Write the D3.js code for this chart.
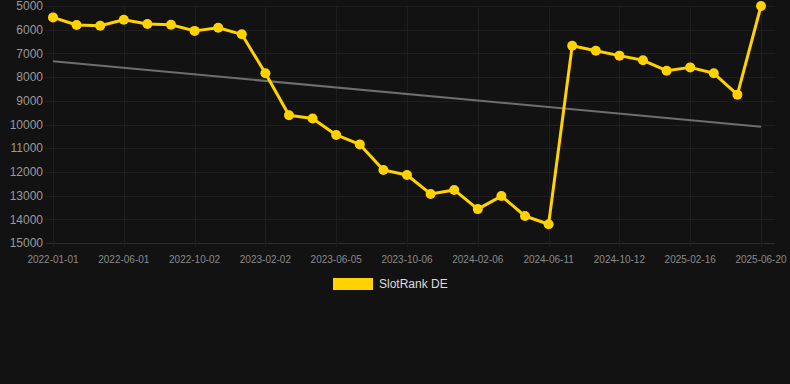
<!DOCTYPE html>
<html>
<head>
<meta charset="utf-8">
<script src="https://cdn.jsdelivr.net/npm/d3@7"></script>
<style>
  html, body { margin: 0; padding: 0; background: #121212; }
  svg { display: block; }
</style>
</head>
<body>
<div id="chart"></div>
<script>
// dates of each sample (only every third one is labelled on the axis)
const dates = [
  '2022-01-01', '2022-02-20', '2022-04-11', '2022-06-01', '2022-07-12', '2022-08-22',
  '2022-10-02', '2022-11-12', '2022-12-23', '2023-02-02', '2023-03-15', '2023-04-25',
  '2023-06-05', '2023-07-16', '2023-08-26', '2023-10-06', '2023-11-16', '2023-12-27',
  '2024-02-06', '2024-03-18', '2024-04-30', '2024-06-11', '2024-07-22', '2024-09-01',
  '2024-10-12', '2024-11-23', '2025-01-05', '2025-02-16', '2025-03-29', '2025-05-09',
  '2025-06-20'
];
const rank = [
  5480, 5800, 5830, 5580, 5760, 5790, 6050, 5915, 6195, 7840, 9610, 9750,
  10440, 10840, 11920, 12130, 12930, 12760, 13570, 13020, 13860, 14210,
  6675, 6885, 7095, 7290, 7730, 7590, 7840, 8740, 5000
];
const yTicks = [5000, 6000, 7000, 8000, 9000, 10000, 11000, 12000, 13000, 14000, 15000];
const seriesName = 'SlotRank DE';

const width = 790, height = 384;
const margin = { top: 6, right: 29, bottom: 141, left: 53 };
const lineColor = '#ffd200';

const svg = d3.select('#chart').append('svg')
  .attr('width', width)
  .attr('height', height)
  .style('background-color', '#121212');

const x = d3.scalePoint()
  .domain(dates)
  .range([margin.left, width - margin.right]);

const y = d3.scaleLinear()
  .domain([5000, 15000])
  .range([margin.top, height - margin.bottom]);

const gridRight = 775;

// horizontal grid
svg.append('g')
  .selectAll('line')
  .data(yTicks)
  .enter()
  .append('line')
  .attr('x1', 46)
  .attr('x2', gridRight)
  .attr('y1', d => Math.round(y(d)) + 0.5)
  .attr('y2', d => Math.round(y(d)) + 0.5)
  .style('stroke', d => d === 15000 ? '#2e2e2e' : '#1e1e1e')
  .style('stroke-width', '1px');

// vertical grid at labelled dates
const labelled = dates.filter((d, i) => i % 3 === 0);
svg.append('g')
  .selectAll('line')
  .data(labelled)
  .enter()
  .append('line')
  .attr('x1', d => Math.round(x(d)) + 0.5)
  .attr('x2', d => Math.round(x(d)) + 0.5)
  .attr('y1', margin.top)
  .attr('y2', d => y(15000) + 4)
  .style('stroke', '#1e1e1e')
  .style('stroke-width', '1px');

// y labels
svg.append('g')
  .selectAll('text')
  .data(yTicks)
  .enter()
  .append('text')
  .attr('x', 43)
  .attr('y', d => y(d))
  .attr('dy', '.35em')
  .style('text-anchor', 'end')
  .style('font-family', 'Arial, "Liberation Sans", sans-serif')
  .style('font-size', '12px')
  .style('fill', '#9a9a9a')
  .text(d => d);

// x labels
svg.append('g')
  .selectAll('text')
  .data(labelled)
  .enter()
  .append('text')
  .attr('x', d => x(d))
  .attr('y', 259)
  .attr('dy', '.35em')
  .style('text-anchor', 'middle')
  .style('font-family', 'Arial, "Liberation Sans", sans-serif')
  .style('font-size', '10px')
  .style('fill', '#8a8a8a')
  .text(d => d);

// linear trend (least squares on index)
const n = rank.length;
const mx = d3.mean(rank, (d, i) => i);
const my = d3.mean(rank);
const slope = d3.sum(rank, (d, i) => (i - mx) * (d - my)) / d3.sum(rank, (d, i) => (i - mx) * (i - mx));
const intercept = my - slope * mx;
svg.append('line')
  .attr('x1', x(dates[0]))
  .attr('y1', y(intercept))
  .attr('x2', x(dates[n - 1]))
  .attr('y2', y(intercept + slope * (n - 1)))
  .style('stroke', '#6e6e6e')
  .style('stroke-width', '2px');

// series line
const line = d3.line()
  .x((d, i) => x(dates[i]))
  .y(d => y(d));

svg.append('path')
  .datum(rank)
  .attr('d', line)
  .style('fill', 'none')
  .style('stroke', lineColor)
  .style('stroke-width', '3px')
  .style('stroke-linejoin', 'round');

svg.append('g')
  .selectAll('circle')
  .data(rank)
  .enter()
  .append('circle')
  .attr('cx', (d, i) => x(dates[i]))
  .attr('cy', d => y(d))
  .attr('r', 5)
  .style('fill', lineColor);

// legend
const legend = svg.append('g');
legend.append('rect')
  .attr('x', 333)
  .attr('y', 278)
  .attr('width', 40)
  .attr('height', 12)
  .style('fill', lineColor);
legend.append('text')
  .attr('x', 379)
  .attr('y', 284)
  .attr('dy', '.35em')
  .style('font-family', 'Arial, "Liberation Sans", sans-serif')
  .style('font-size', '12px')
  .style('fill', '#dddddd')
  .text(seriesName);
</script>
</body>
</html>
